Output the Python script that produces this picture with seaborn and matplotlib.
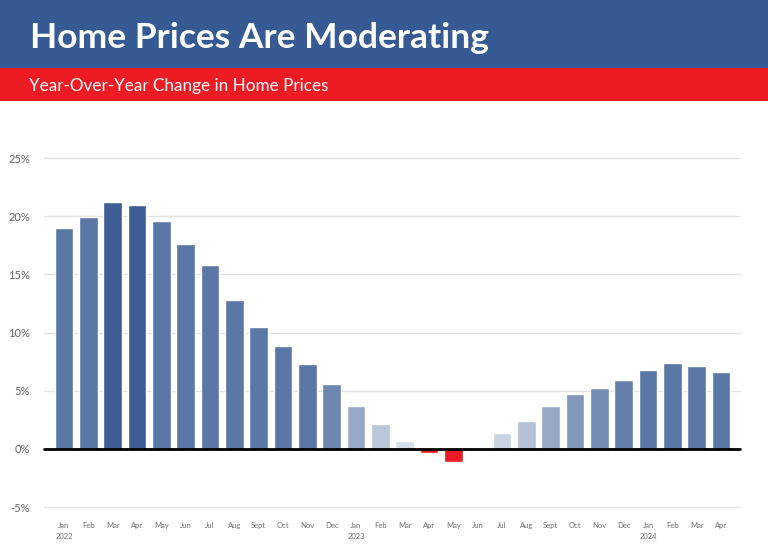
import numpy as np
import pandas as pd
import matplotlib
matplotlib.use('Agg')
import matplotlib.pyplot as plt
from matplotlib.patches import Rectangle
from matplotlib.colors import to_rgb
import seaborn as sns

# ── data ────────────────────────────────────────────────────────────────
MONTHS = ['Jan', 'Feb', 'Mar', 'Apr', 'May', 'Jun', 'Jul', 'Aug', 'Sept', 'Oct', 'Nov', 'Dec',
          'Jan', 'Feb', 'Mar', 'Apr', 'May', 'Jun', 'Jul', 'Aug', 'Sept', 'Oct', 'Nov', 'Dec',
          'Jan', 'Feb', 'Mar', 'Apr']
YEARS = ['2022'] + [''] * 11 + ['2023'] + [''] * 11 + ['2024'] + [''] * 3
YOY_CHANGE = [19.0, 19.9, 21.2, 21.0, 19.6, 17.6, 15.8, 12.8, 10.5, 8.8, 7.3, 5.6,
              3.7, 2.1, 0.7, -0.4, -1.1, 0.0, 1.4, 2.4, 3.7, 4.7, 5.2, 5.9,
              6.8, 7.4, 7.1, 6.6]
Y_TICKS = [-5, 0, 5, 10, 15, 20, 25]

BLUE_HDR = '#365a93'
RED = '#ed1c24'
BAR_BLUE = '#5b77a6'
BAR_DARK = '#3e5d94'


def bar_color(v):
    if v < 0:
        return RED
    if v > 20.5:
        return BAR_DARK
    a = min(1.0, 0.14 + v / 6.4 * 0.86)
    base = np.array(to_rgb(BAR_BLUE))
    return tuple(base * a + (1 - a))


df = pd.DataFrame({
    'idx': np.arange(len(YOY_CHANGE)),
    'label': [m + ('\n' + y if y else '') for m, y in zip(MONTHS, YEARS)],
    'value': YOY_CHANGE,
})
palette = {i: bar_color(v) for i, v in zip(df['idx'], df['value'])}

sns.set_theme(style='white')
plt.rcParams['font.family'] = ['Lato', 'DejaVu Sans']

fig = plt.figure(figsize=(7.68, 5.51), dpi=100)
fig.patch.set_facecolor('white')

# header bands
fig.patches.append(Rectangle((0, 1 - 68 / 551), 1, 68 / 551, transform=fig.transFigure,
                             facecolor=BLUE_HDR, edgecolor='none', zorder=0))
fig.patches.append(Rectangle((0, 1 - 101 / 551), 1, 33 / 551, transform=fig.transFigure,
                             facecolor=RED, edgecolor='none', zorder=0))
fig.text(30 / 768, 1 - 48 / 551, 'Home Prices Are Moderating', color='white',
         fontsize=25.5, fontweight='bold', va='baseline', ha='left')
fig.text(29 / 768, 1 - 91 / 551, 'Year-Over-Year Change in Home Prices', color='white',
         fontsize=12.3, va='baseline', ha='left')

ax = fig.add_axes([44 / 768, 1 - 507 / 551, 696 / 768, 349 / 551])
sns.barplot(data=df, x='idx', y='value', hue='idx', palette=palette, legend=False,
            width=0.77, saturation=1, ax=ax)

ax.set_xlim(-0.82, 27.78)
ax.set_ylim(-5, 25)
ax.set_yticks(Y_TICKS)
ax.set_yticklabels([f'{t}%' for t in Y_TICKS], color='#666666', fontsize=8)
ax.set_xticks(df['idx'])
ax.set_xticklabels(df['label'], color='#707070', fontsize=5.5, linespacing=1.6)
ax.tick_params(axis='x', length=0, pad=11)
ax.tick_params(axis='y', length=0, pad=10)
for lbl in ax.get_xticklabels():
    lbl.set_verticalalignment('top')

for t in Y_TICKS:
    if t == 0:
        ax.axhline(0, color='black', lw=2, zorder=3, clip_on=False)
    else:
        ax.axhline(t, color='#e3e3e3', lw=1, zorder=0, clip_on=False)

for s in ax.spines.values():
    s.set_visible(False)
ax.set_xlabel('')
ax.set_ylabel('')
ax.set_facecolor('white')

plt.savefig('out.png', dpi=100)
